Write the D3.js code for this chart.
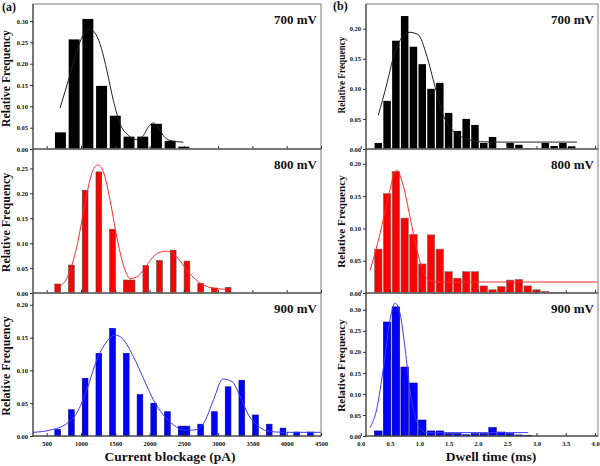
<!DOCTYPE html>
<html lang="en"><head><meta charset="utf-8">
<title>Blockage and dwell time histograms</title>
<script src="https://cdnjs.cloudflare.com/ajax/libs/d3/7.8.5/d3.min.js"></script>
<style>
  body{margin:0;background:#fff}
  svg text{font-family:"Liberation Serif","Times New Roman",serif;font-weight:bold;fill:#111}
  .frame{fill:none;stroke:#7a7a7a;stroke-width:1}
  .axis path{stroke:#333}
  .axis line{stroke:#333}
  .axis text{font-size:6.5px}
</style>
</head><body>
<svg id="chart" width="600" height="466"></svg>
<script>
// ---- (a) current blockage, pA ----
var blk700X  = [700, 900, 1100, 1300, 1500, 1700, 1900, 2100, 2300, 2500];
var blk700Y  = [0.039, 0.257, 0.305, 0.148, 0.078, 0.029, 0.029, 0.059, 0.019, 0.0055];
var fit700X  = [694, 816, 930, 1040, 1127, 1220, 1300, 1376, 1472, 1570, 1691, 1814, 1910, 1985, 2056, 2130, 2202, 2300, 2494];
var fit700Y  = [0.096, 0.161, 0.225, 0.27, 0.281, 0.268, 0.235, 0.185, 0.114, 0.059, 0.032, 0.022, 0.032, 0.052, 0.061, 0.05, 0.031, 0.02, 0.016];

var blk800X1 = [660, 860, 1060, 1260, 1460, 1660];
var blk800Y1 = [0.018, 0.056, 0.206, 0.243, 0.128, 0.026];
var blk800X2 = [1745, 1945, 2145, 2345, 2545, 2745, 2945, 3145];
var blk800Y2 = [0.026, 0.055, 0.065, 0.086, 0.064, 0.019, 0.010, 0.011];
var fit800X  = [694, 816, 937, 1059, 1157, 1245, 1327, 1424, 1521, 1619, 1716, 1813, 1959, 2105, 2241, 2397, 2543, 2689, 2835, 2981, 3127];
var fit800Y  = [0.013, 0.036, 0.092, 0.18, 0.24, 0.257, 0.243, 0.186, 0.113, 0.056, 0.029, 0.032, 0.056, 0.079, 0.084, 0.072, 0.046, 0.025, 0.013, 0.009, 0.007];

var blk900X1 = [660, 860, 1060, 1260, 1460, 1660, 1860, 2060, 2260, 2460];
var blk900Y1 = [0.010, 0.040, 0.088, 0.126, 0.164, 0.126, 0.063, 0.050, 0.037, 0.015];
var blk900X2 = [2545, 2745, 2945, 3145, 3345, 3545, 3745, 3945, 4145, 4345];
var blk900Y2 = [0.015, 0.018, 0.037, 0.075, 0.085, 0.032, 0.018, 0.012, 0.006, 0.006];
var fit900X  = [300, 548, 792, 938, 1084, 1230, 1376, 1497, 1618, 1764, 1910, 2056, 2202, 2348, 2494, 2640, 2786, 2932, 3069, 3201, 3322, 3443, 3566, 3712, 3955, 4500];
var fit900Y  = [0.0056, 0.009, 0.019, 0.035, 0.070, 0.116, 0.144, 0.154, 0.147, 0.121, 0.088, 0.055, 0.032, 0.017, 0.009, 0.009, 0.019, 0.055, 0.087, 0.083, 0.060, 0.032, 0.017, 0.0076, 0.0056, 0.0056];

// ---- (b) dwell time, ms ----
var dwellBins = [0.3, 0.45, 0.6, 0.75, 0.9, 1.05, 1.2, 1.35, 1.5, 1.65, 1.8, 1.95, 2.1, 2.25, 2.4, 2.55, 2.7, 2.85, 3.0, 3.15, 3.3, 3.45, 3.6];
var dwl700Y = [0.010, 0.080, 0.180, 0.221, 0.170, 0.141, 0.100, 0.110, 0.060, 0.030, 0.050, 0.040, 0.010, 0.020, 0.001, 0.010, 0.007, 0.001, 0, 0.010, 0.005, 0.010, 0.0045];
var dwl800Y = [0.068, 0.154, 0.188, 0.116, 0.091, 0.045, 0.090, 0.068, 0.033, 0.023, 0.033, 0.033, 0.011, 0.005, 0.010, 0.020, 0.021, 0.011, 0.005, 0.0026, 0.001, 0.001];
var dwl900Y = [0.012, 0.271, 0.307, 0.164, 0.126, 0.038, 0.012, 0.012, 0.0055, 0.0055, 0.003, 0.0055, 0.0055, 0.020, 0.0095, 0.0055, 0.0025, 0.0015];
var dfit700X = [0.30, 0.45, 0.55, 0.7, 0.84, 0.98, 1.13, 1.27, 1.41, 1.58, 1.81, 2.04, 2.4, 3.69];
var dfit700Y = [0.056, 0.11, 0.15, 0.185, 0.194, 0.19, 0.154, 0.103, 0.056, 0.030, 0.017, 0.012, 0.0115, 0.0115];
var dfit800X = [0.16, 0.33, 0.47, 0.61, 0.73, 0.84, 0.96, 1.07, 1.18, 1.35, 4.05];
var dfit800Y = [0.035, 0.092, 0.149, 0.19, 0.165, 0.118, 0.066, 0.032, 0.019, 0.017, 0.017];
var dfit900X = [0.16, 0.27, 0.39, 0.5, 0.585, 0.67, 0.76, 0.84, 0.93, 1.01, 1.13, 2.86];
var dfit900Y = [0.020, 0.062, 0.165, 0.276, 0.316, 0.292, 0.205, 0.11, 0.046, 0.018, 0.008, 0.008];

var blkTicks = [500, 1000, 1500, 2000, 2500, 3000, 3500, 4000, 4500];
var dwlTicks = [0, 0.5, 1, 1.5, 2, 2.5, 3, 3.5, 4];
var voltages = ["700 mV", "800 mV", "900 mV"];

var svg = d3.select("#chart");
var rows = [[4, 149], [149, 293], [293, 436]];

var xa = d3.scaleLinear().domain([300, 4500]).range([33, 321]);
var xb = d3.scaleLinear().domain([0.09, 4.05]).range([366, 598]);

function zip(xs, ys) { return xs.map(function(x, i) { return [x, ys[i]]; }); }

function panel(x, row, ymax, yticks, bars, barW, fit, color, barStroke, curveColor, label, titleSize, titleY, showX, xticks, xfmt) {
  var y0 = rows[row][0], y1 = rows[row][1];
  var y = d3.scaleLinear().domain([0, ymax]).range([y1, y0]);
  var g = svg.append("g");

  bars.forEach(function(b) {
    g.selectAll(null).data(zip(b[0], b[1])).enter().append("rect")
      .attr("x", function(d) { return x(d[0] - barW / 2); })
      .attr("width", function(d) { return x(d[0] + barW / 2) - x(d[0] - barW / 2); })
      .attr("y", function(d) { return y(d[1]); })
      .attr("height", function(d) { return y(0) - y(d[1]); })
      .attr("fill", color)
      .attr("stroke", barStroke)
      .attr("stroke-width", barStroke == "none" ? 0 : 0.6);
  });

  var line = d3.line().x(function(d) { return x(d[0]); }).y(function(d) { return y(d[1]); })
    .curve(d3.curveMonotoneX);
  g.append("path").datum(zip(fit[0], fit[1]))
    .attr("d", line).attr("fill", "none").attr("stroke", curveColor).attr("stroke-width", 1);

  var xr = x.range();
  g.append("rect").attr("class", "frame")
    .attr("x", xr[0]).attr("y", y0).attr("width", xr[1] - xr[0]).attr("height", y1 - y0);

  g.append("g").attr("class", "axis").attr("transform", "translate(" + xr[0] + ",0)")
    .call(d3.axisLeft(y).tickValues(yticks).tickSize(3).tickPadding(2).tickFormat(d3.format(".2f")))
    .call(function(s) { s.select(".domain").remove(); });

  var ax = g.append("g").attr("class", "axis").attr("transform", "translate(0," + y1 + ")")
    .call(d3.axisBottom(x).tickValues(xticks).tickSize(-3).tickPadding(5).tickFormat(xfmt))
    .call(function(s) { s.select(".domain").attr("d", "M" + xr[0] + ",0H" + xr[1]); });
  if (!showX) ax.selectAll("text").remove();

  g.append("line").attr("x1", xr[0]).attr("x2", xr[0]).attr("y1", y0).attr("y2", y1).attr("stroke", "#333");

  g.append("text").attr("x", xr[1] - 4).attr("y", y0 + 20).attr("text-anchor", "end")
    .style("font-size", "13px").text(label);

  g.append("text").attr("transform", "translate(" + (xr[0] === 33 ? 9.5 : 345) + "," + titleY + ") rotate(-90)")
    .attr("text-anchor", "middle").style("font-size", titleSize + "px").text("Relative Frequency");
}

var fA = d3.format("d"), fB = d3.format(".1f");
panel(xa, 0, 0.34, [0, 0.05, 0.1, 0.15, 0.2, 0.25, 0.3], [[blk700X, blk700Y]], 160, [fit700X, fit700Y],
  "#000", "none", "#222", voltages[0], 11.7, 78.5, false, blkTicks, fA);
panel(xa, 1, 0.289, [0, 0.05, 0.1, 0.15, 0.2, 0.25], [[blk800X1, blk800Y1], [blk800X2, blk800Y2]], 83, [fit800X, fit800Y],
  "#ff0000", "#444", "#ff2a2a", voltages[1], 12, 222.5, false, blkTicks, fA);
panel(xa, 2, 0.218, [0, 0.05, 0.1, 0.15, 0.2], [[blk900X1, blk900Y1], [blk900X2, blk900Y2]], 83, [fit900X, fit900Y],
  "#0000ff", "#00008a", "#3a3aff", voltages[2], 12, 366, true, blkTicks, fA);

panel(xb, 0, 0.241, [0, 0.05, 0.1, 0.15, 0.2], [[dwellBins, dwl700Y]], 0.128, [dfit700X, dfit700Y],
  "#000", "none", "#222", voltages[0], 9.3, 75, false, dwlTicks, fB);
panel(xb, 1, 0.223, [0, 0.05, 0.1, 0.15, 0.2], [[dwellBins.slice(0, dwl800Y.length), dwl800Y]], 0.128, [dfit800X, dfit800Y],
  "#ff0000", "#777", "#ff2a2a", voltages[1], 11.2, 221.5, false, dwlTicks, fB);
panel(xb, 2, 0.34, [0, 0.05, 0.1, 0.15, 0.2, 0.25, 0.3], [[dwellBins.slice(0, dwl900Y.length), dwl900Y]], 0.128, [dfit900X, dfit900Y],
  "#0000ff", "#00008a", "#3a3aff", voltages[2], 11.2, 365.5, true, dwlTicks, fB);

svg.append("text").attr("x", 2).attr("y", 11).style("font-size", "12px").text("(a)");
svg.append("text").attr("x", 333).attr("y", 10).style("font-size", "12px").text("(b)");
svg.append("text").attr("x", 170).attr("y", 461).attr("text-anchor", "middle").style("font-size", "13.5px").text("Current blockage (pA)");
svg.append("text").attr("x", 491).attr("y", 461).attr("text-anchor", "middle").style("font-size", "13.5px").text("Dwell time (ms)");
</script>
</body></html>
